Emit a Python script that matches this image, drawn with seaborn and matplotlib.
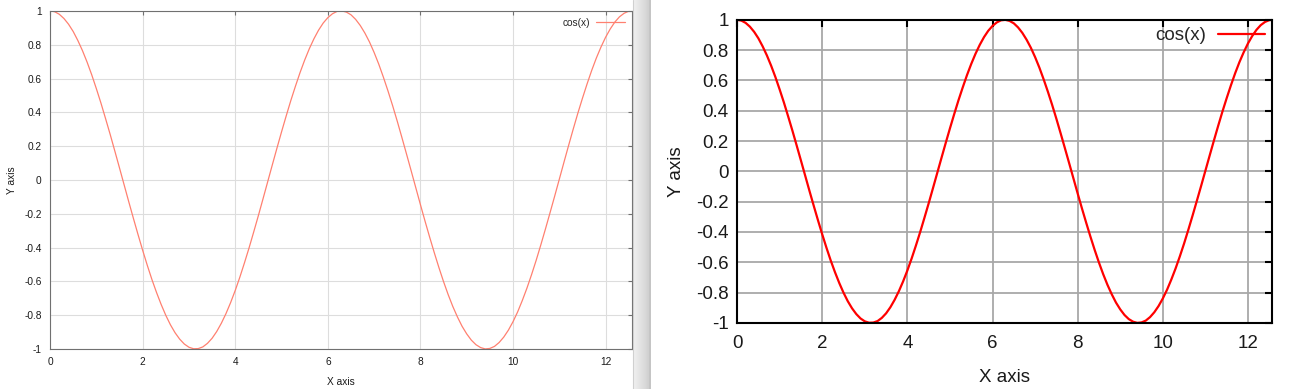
import numpy as np
import pandas as pd
import seaborn as sns
from matplotlib import pyplot as plt
from matplotlib.ticker import FuncFormatter

x_vals = [0.0, 0.1, 0.2, 0.3, 0.4, 0.5, 0.6, 0.7, 0.8, 0.9, 1.0, 1.1, 1.2, 1.3, 1.4, 1.5,
          1.6, 1.7, 1.8, 1.9, 2.0, 2.1, 2.2, 2.3, 2.4, 2.5, 2.6, 2.7, 2.8, 2.9, 3.0, 3.1,
          3.2, 3.3, 3.4, 3.5, 3.6, 3.7, 3.8, 3.9, 4.0, 4.1, 4.2, 4.3, 4.4, 4.5, 4.6, 4.7,
          4.8, 4.9, 5.0, 5.1, 5.2, 5.3, 5.4, 5.5, 5.6, 5.7, 5.8, 5.9, 6.0, 6.1, 6.2, 6.3,
          6.4, 6.5, 6.6, 6.7, 6.8, 6.9, 7.0, 7.1, 7.2, 7.3, 7.4, 7.5, 7.6, 7.7, 7.8, 7.9,
          8.0, 8.1, 8.2, 8.3, 8.4, 8.5, 8.6, 8.7, 8.8, 8.9, 9.0, 9.1, 9.2, 9.3, 9.4, 9.5,
          9.6, 9.7, 9.8, 9.9, 10.0, 10.1, 10.2, 10.3, 10.4, 10.5, 10.6, 10.7, 10.8, 10.9,
          11.0, 11.1, 11.2, 11.3, 11.4, 11.5, 11.6, 11.7, 11.8, 11.9, 12.0, 12.1, 12.2,
          12.3, 12.4, 12.5, 12.566]
y_vals = [1.000, 0.995, 0.980, 0.955, 0.921, 0.878, 0.825, 0.765, 0.697, 0.622, 0.540,
          0.454, 0.362, 0.268, 0.170, 0.071, -0.029, -0.129, -0.227, -0.323, -0.416,
          -0.505, -0.589, -0.666, -0.737, -0.801, -0.857, -0.904, -0.942, -0.971, -0.990,
          -0.999, -0.998, -0.988, -0.967, -0.937, -0.897, -0.848, -0.791, -0.726, -0.654,
          -0.575, -0.490, -0.401, -0.307, -0.211, -0.112, -0.012, 0.088, 0.187, 0.284,
          0.378, 0.469, 0.554, 0.635, 0.709, 0.776, 0.835, 0.886, 0.928, 0.960, 0.983,
          0.997, 1.000, 0.993, 0.977, 0.950, 0.914, 0.869, 0.816, 0.754, 0.685, 0.608,
          0.526, 0.439, 0.347, 0.251, 0.153, 0.054, -0.046, -0.146, -0.244, -0.339, -0.431,
          -0.519, -0.602, -0.679, -0.749, -0.811, -0.866, -0.911, -0.948, -0.975, -0.992,
          -1.000, -0.997, -0.985, -0.962, -0.930, -0.889, -0.839, -0.781, -0.714, -0.641,
          -0.561, -0.476, -0.385, -0.291, -0.194, -0.096, 0.004, 0.104, 0.203, 0.300,
          0.394, 0.483, 0.568, 0.648, 0.721, 0.786, 0.844, 0.893, 0.934, 0.965, 0.986,
          0.998, 1.000]
x_ticks = [0, 2, 4, 6, 8, 10, 12]
y_ticks = [-1, -0.8, -0.6, -0.4, -0.2, 0, 0.2, 0.4, 0.6, 0.8, 1]
serie = 'cos(x)'

df = pd.DataFrame({'x': x_vals, 'y': y_vals})

sns.set_style('white')
plt.rcParams['font.family'] = ['Liberation Sans', 'DejaVu Sans']

fig = plt.figure(figsize=(13, 3.89), dpi=100)

# borde de la ventana entre los dos graficos
fondo = fig.add_axes([633 / 1300, 0, 18 / 1300, 1])
grad = np.linspace(0, 1, 50).reshape(1, -1)
fondo.imshow(grad, aspect='auto', cmap='Greys', vmin=-0.6, vmax=4.5, extent=[0, 1, 0, 1])
fondo.axvline(0.97, color='#c4c4c4', lw=1.2)
fondo.axis('off')
fig.add_artist(plt.Line2D([632.5 / 1300] * 2, [0, 1], color='#d0d0d0', lw=0.8))

fmt = FuncFormatter(lambda v, p: f'{round(v, 2):g}' if abs(v) > 1e-9 else '0')


def dibujar(ax, color, lw, fs, spine_c, spine_w, grid_c, grid_w, tick_len, hl, pad):
    sns.lineplot(data=df, x='x', y='y', ax=ax, color=color, lw=lw, label=serie, sort=False)
    ax.set_xlim(0, 12.566)
    ax.set_ylim(-1, 1)
    ax.set_xticks(x_ticks)
    ax.set_yticks(y_ticks)
    ax.yaxis.set_major_formatter(fmt)
    ax.grid(True, color=grid_c, lw=grid_w)
    for s in ax.spines.values():
        s.set_color(spine_c)
        s.set_linewidth(spine_w)
        s.set_visible(True)
    ax.tick_params(direction='in', length=tick_len, width=spine_w, color=spine_c,
                   top=True, right=True, labelsize=fs, pad=6, labelcolor='#1a1a1a')
    ax.set_xlabel('X axis', fontsize=fs, color='#1a1a1a')
    ax.set_ylabel('Y axis', fontsize=fs, color='#1a1a1a')
    ax.legend(loc='upper right', frameon=False, markerfirst=False, fontsize=fs,
              handlelength=hl, handletextpad=0.6, borderaxespad=pad)


ax1 = fig.add_axes([0.0385, 0.103, 0.4475, 0.869])
dibujar(ax1, '#ff8070', 0.9, 7.3, '#707070', 0.8, '#dddddd', 0.8, 3, 2.8, 0.3)
ax1.xaxis.labelpad = 7
ax1.yaxis.labelpad = 5

ax2 = fig.add_axes([0.567, 0.17, 0.4115, 0.779])
dibujar(ax2, '#ff0000', 1.6, 13.5, '#000000', 1.5, '#a8a8a8', 1.3, 5, 2.5, 0.0)
ax2.tick_params(axis='x', pad=9)
ax2.xaxis.labelpad = 12
ax2.yaxis.labelpad = 8

plt.savefig('out.png', dpi=100)
